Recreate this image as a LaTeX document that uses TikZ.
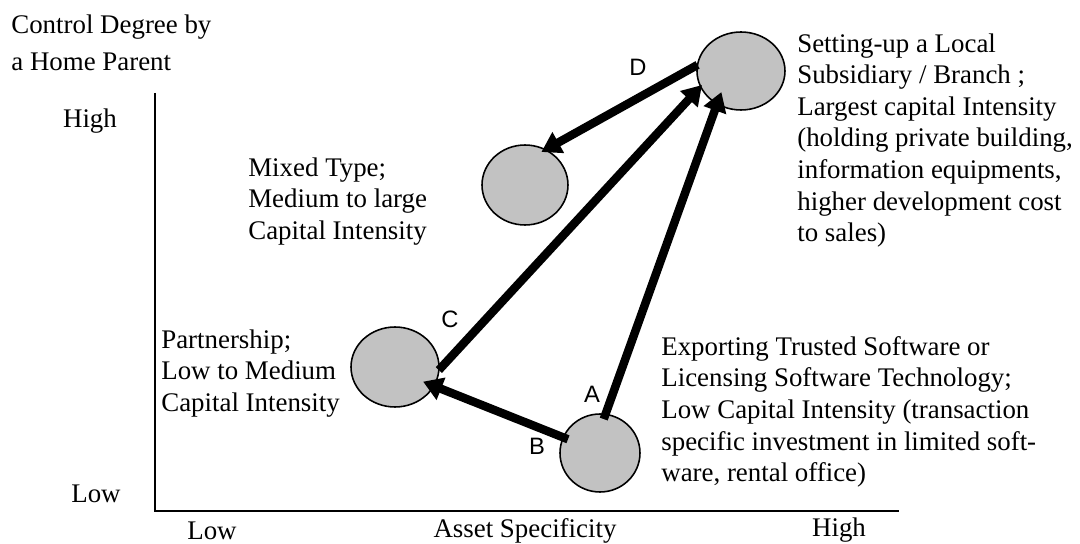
\documentclass[tikz,border=0pt]{standalone}
\usepackage{fontspec}
\setmainfont{Liberation Serif}
\setsansfont{Liberation Sans}
\usetikzlibrary{positioning}
\usetikzlibrary{shapes.geometric}
\usetikzlibrary{arrows.meta}

\begin{document}
\begin{tikzpicture}[
    x=0.02cm, y=-0.02cm,
    bubble/.style={ellipse, draw=black, fill=black!24, line width=0.9pt, inner sep=0pt, outer sep=0pt},
    move/.style={-{Triangle[length=11pt, width=13pt]}, line width=4.8pt},
    note/.style={align=left, inner sep=0pt, anchor=north west, font=\fontsize{15.3}{18}\selectfont},
    axislabel/.style={inner sep=0pt, font=\fontsize{15.3}{18}\selectfont},
    letter/.style={inner sep=0pt, font=\sffamily\fontsize{13.5}{16}\selectfont},
  ]
  \useasboundingbox (0,0) rectangle (1080,544);

  % axes
  \coordinate (ytop)   at (155,93);
  \coordinate (origin) at (155,511);
  \coordinate (xend)   at (899,511);
  \draw[line width=1.1pt] (ytop) -- (origin) -- (xend);

  \node[note]      (ytitle) at (11,14)    {Control Degree by\\[3.5pt]a Home Parent};
  \node[axislabel] (yhigh)  at (90,121)   {High};
  \node[axislabel] (ylow)   at (96,494)   {Low};
  \node[axislabel] (xlow)   at (212,531)  {Low};
  \node[axislabel] (xtitle) at (525,531)  {Asset Specificity};
  \node[axislabel] (xhigh)  at (839,530)  {High};

  % bubbles
  \node[bubble, minimum width=1.6cm,  minimum height=1.56cm] (export)  at (600,453) {};
  \node[bubble, minimum width=1.76cm, minimum height=1.6cm]  (partner) at (395,367) {};
  \node[bubble, minimum width=1.72cm, minimum height=1.6cm]  (mixed)   at (525,185) {};
  \node[bubble, minimum width=1.76cm, minimum height=1.56cm] (subsid)  at (741,71)  {};

  % descriptions
  \node[note] (subsidtext)  at (797,33)  {Setting-up a Local\\Subsidiary / Branch ;\\Largest capital Intensity\\(holding private building,\\information equipments,\\higher development cost\\to sales)};
  \node[note] (mixedtext)   at (248,157) {Mixed Type;\\Medium to large\\Capital Intensity};
  \node[note] (partnertext) at (161,329) {Partnership;\\Low to Medium\\Capital Intensity};
  \node[note] (exporttext)  at (661,336) {Exporting Trusted Software or\\Licensing Software Technology;\\Low Capital Intensity (transaction\\specific investment in limited soft-\\ware, rental office)};

  % paths between entry modes
  \draw[move, shorten <=-0.1cm, shorten >=-0.25cm] (export.82) -- (subsid.234);
  \draw[move, shorten <=-0.1cm, shorten >=-0.23cm] (export.157) -- (partner.334);
  \draw[move, shorten >=-0.04cm] (partner.356) -- (subsid.201);
  \draw[move, shorten >=-0.09cm] (subsid.172) -- (mixed.60);

  \node[letter] (pathA) at (592,394) {A};
  \node[letter] (pathB) at (537,446) {B};
  \node[letter] (pathC) at (450,319) {C};
  \node[letter] (pathD) at (638,67)  {D};
\end{tikzpicture}
\end{document}
